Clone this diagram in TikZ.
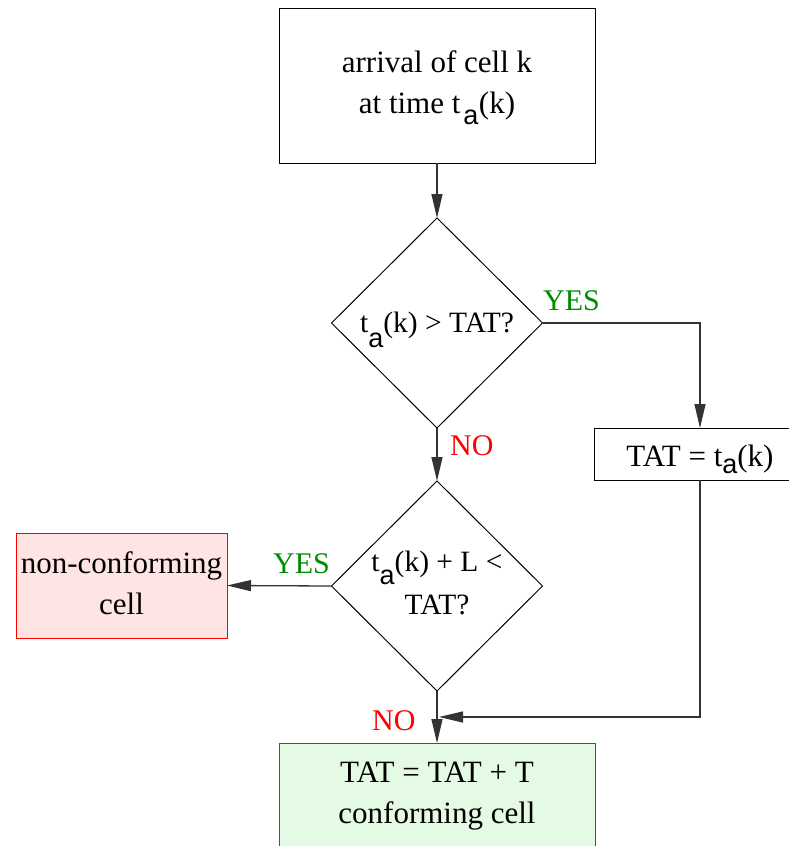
\documentclass[tikz,border=0pt]{standalone}
\usepackage{fontspec}
\setmainfont{Liberation Serif}
\newfontfamily\subfont{Liberation Sans}
\usetikzlibrary{shapes.geometric,arrows.meta}
\definecolor{linegray}{RGB}{51,51,51}
\definecolor{yesgreen}{RGB}{0,140,0}
\definecolor{redfill}{RGB}{255,228,228}
\definecolor{greenfill}{RGB}{228,250,228}
\definecolor{greenline}{RGB}{0,140,0}
\newcommand{\tsub}[3]{t\kern#1\lower#2\hbox{\subfont\fontsize{27}{30}\selectfont a}\kern#3}
\begin{document}
\begin{tikzpicture}[x=1pt,y=-1pt,
  boxstyle/.style={draw=black, line width=1pt, inner sep=0pt, outer sep=0pt},
  diastyle/.style={diamond, draw=black, line width=1pt, inner sep=0pt, outer sep=0pt, minimum width=211pt, minimum height=210pt},
  txt/.style={align=center, inner sep=0pt, font=\fontsize{31}{41}\selectfont},
  dtxt/.style={align=center, inner sep=0pt, font=\fontsize{29.5}{43}\selectfont},
  lbl/.style={anchor=base west, inner sep=0pt, font=\fontsize{30}{36}\selectfont},
  conn/.style={draw=linegray, line width=1.3pt, -{Triangle[length=24pt,width=11pt]}}]
\useasboundingbox (0,0) rectangle (789,846);
\clip (0,0) rectangle (789,846);
% boxes
\node[boxstyle, minimum width=316pt, minimum height=155pt] (top) at (437,85.5) {};
\node[txt] (toptxt) at (437,88) {arrival of cell k\\at time \tsub{3pt}{11pt}{0.5pt}(k)};
\node[diastyle] (d1) at (437,323) {};
\node[dtxt] (d1txt) at (437,330) {\tsub{0pt}{15pt}{0pt}(k) {\textgreater} TAT?};
\node[boxstyle, minimum width=212pt, minimum height=52pt] (tat) at (700,454) {};
\node[txt] (tattxt) at (700,459) {TAT = \tsub{0pt}{7pt}{0pt}(k)};
\node[diastyle] (d2) at (437,586) {};
\node[dtxt] (d2txt) at (437,583) {\tsub{0pt}{13pt}{0pt}(k) + L {\textless}\\TAT?};
\node[boxstyle, draw=red, fill=redfill, minimum width=211pt, minimum height=105pt] (red) at (121.5,585.5) {};
\node[txt] (redtxt) at (121.5,583) {non-conforming\\cell};
\node[boxstyle, draw=greenline, fill=greenfill, minimum width=316pt, minimum height=107pt] (green) at (437,796.5) {};
\node[txt] (greentxt) at (437,796.5) {TAT = TAT + T\\conforming cell};
\coordinate (join) at (439,717);
% connectors
\draw[conn] (top.south) -- (d1.north);
\draw[conn] (d1.east) -| (tat.north);
\draw[conn] (d1.south) -- (d2.north);
\draw[conn] (d2.west) -- (red.east);
\draw[conn] (d2.south) -- (green.north);
\draw[conn] (tat.south) |- (join);
% labels
\node[lbl, text=yesgreen] (yes1) at (543,310) {YES};
\node[lbl, text=red] (no1) at (450,455) {NO};
\node[lbl, text=yesgreen] (yes2) at (273,573) {YES};
\node[lbl, text=red] (no2) at (372,730) {NO};
\end{tikzpicture}
\end{document}
